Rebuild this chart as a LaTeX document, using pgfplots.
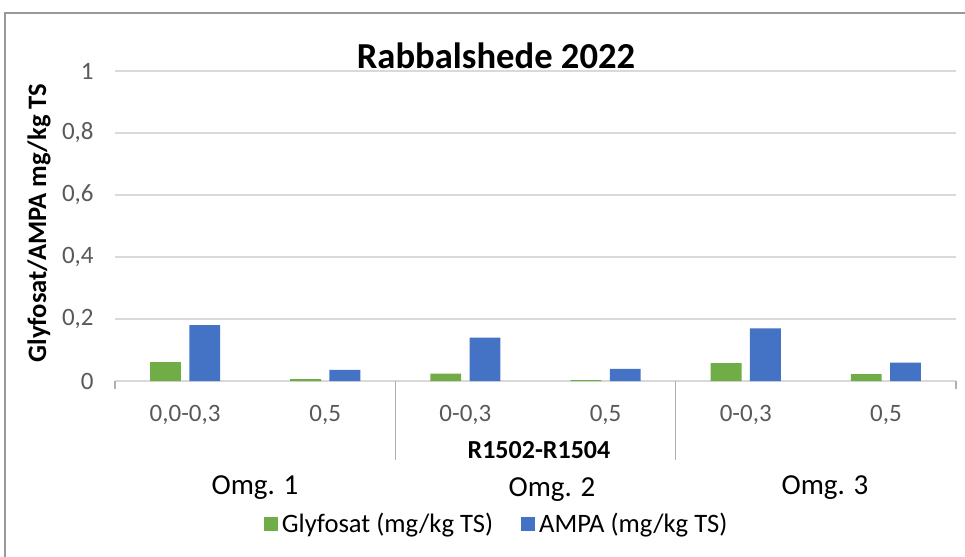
\documentclass[border=0pt]{standalone}
\usepackage{pgfplots}
\pgfplotsset{compat=1.18}
\usepackage{fontspec}
\setmainfont{Carlito}
\definecolor{glyf}{HTML}{70AD47}
\definecolor{ampa}{HTML}{4472C4}
\definecolor{gridc}{HTML}{D9D9D9}
\definecolor{txt}{HTML}{595959}
\definecolor{sepc}{HTML}{B0B0B0}
\begin{document}
\begin{tikzpicture}
\begin{axis}[
  at={(57.5pt,-190.5pt)}, anchor=south west,
  scale only axis, width=420.5pt, height=155pt,
  xmin=-0.5, xmax=5.5, ymin=0, ymax=1,
  ytick={0,0.2,0.4,0.6,0.8,1},
  /pgf/number format/assume math mode=true,
  yticklabel style={/pgf/number format/use comma, /pgf/number format/fixed, font=\fontsize{12.5}{14}\selectfont, text=txt, inner sep=0pt, xshift=-10.5pt},
  xtick={0,1,2,3,4,5},
  xticklabels={{0,0-0,3},{0,5},{0-0,3},{0,5},{0-0,3},{0,5}},
  xticklabel style={font=\fontsize{12.5}{14}\selectfont, text=txt, inner sep=0pt, anchor=north, yshift=-11.8pt},
  major tick length=0pt,
  ymajorgrids, grid style={gridc, line width=0.75pt},
  separate axis lines,
  axis x line*=bottom, axis y line*=left,
  x axis line style={gridc, line width=0.75pt, -},
  y axis line style={draw=none},
  legend style={at={(0.455,-0.461)}, anchor=center, draw=none, fill=none,
    font=\fontsize{13.3}{15}\selectfont, legend columns=2,
    /tikz/every even column/.append style={column sep=12pt},
    legend cell align=left, inner sep=0pt},
]
\addplot[ybar, bar width=0.22, bar shift=-0.14, fill=glyf, draw=none,
  legend image code/.code={\fill[glyf] (0pt,-3.5pt) rectangle (7pt,3.5pt);}]
  coordinates {(0,0.061) (1,0.006) (2,0.024) (3,0.003) (4,0.058) (5,0.022)};
\addlegendentry{Glyfosat (mg/kg TS)}
\addplot[ybar, bar width=0.22, bar shift=0.14, fill=ampa, draw=none,
  legend image code/.code={\fill[ampa] (0pt,-3.5pt) rectangle (7pt,3.5pt);}]
  coordinates {(0,0.180) (1,0.036) (2,0.140) (3,0.039) (4,0.170) (5,0.059)};
\addlegendentry{AMPA (mg/kg TS)}
\end{axis}
\begin{scope}[x=0.5pt,y=-0.5pt]
\draw[color=black!40, line width=0.75pt] (5,600) -- (5,13) -- (1000,13);
\draw[sepc, line width=0.75pt] (115,381) -- (115,389);
\draw[sepc, line width=0.75pt] (395.3,381) -- (395.3,460);
\draw[sepc, line width=0.75pt] (675.7,381) -- (675.7,460);
\draw[sepc, line width=0.75pt] (956,381) -- (956,389);
\node[font=\bfseries\fontsize{18.3}{20}\selectfont] at (496,56) {Rabbalshede 2022};
\node[rotate=90, font=\bfseries\fontsize{13.3}{15}\selectfont] at (39,223) {Glyfosat/AMPA mg/kg TS};
\node[font=\bfseries\fontsize{13}{15}\selectfont] at (539,450) {R1502-R1504};
\node[font=\fontsize{14.5}{16}\selectfont] at (255,488) {Omg. 1};
\node[font=\fontsize{14.5}{16}\selectfont] at (552,490) {Omg. 2};
\node[font=\fontsize{14.5}{16}\selectfont] at (825,488) {Omg. 3};
\pgfresetboundingbox
\path[use as bounding box] (0,0) rectangle (965,557);
\end{scope}
\end{tikzpicture}
\end{document}
